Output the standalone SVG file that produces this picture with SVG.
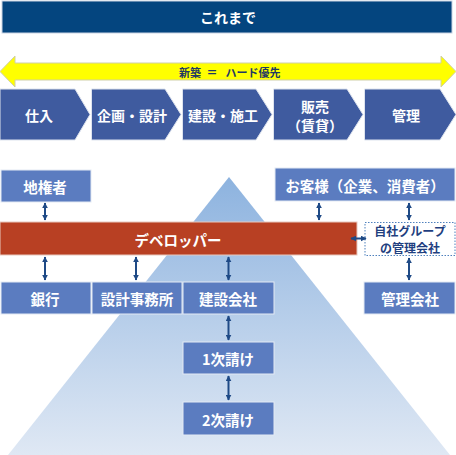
<svg xmlns="http://www.w3.org/2000/svg" width="456" height="455" viewBox="0 0 456 455">
<defs>
<linearGradient id="pyr" x1="0" y1="0" x2="0" y2="1">
<stop offset="0" stop-color="#8DB3DF"/>
<stop offset="1" stop-color="#DFE8F4"/>
</linearGradient>
<marker id="ah" viewBox="0 0 10 10" refX="9" refY="5" markerWidth="3" markerHeight="3" orient="auto-start-reverse" markerUnits="strokeWidth">
<path d="M0,0 L10,5 L0,10 z" fill="#1F4A86"/>
</marker>
<style>
text{font-family:"Noto Sans CJK JP","Noto Sans",sans-serif;font-weight:bold;text-anchor:middle;dominant-baseline:central}
.w{fill:#fff}
.box{fill:#5B7CC0;stroke:#E4EAF4;stroke-width:1}
.chev{fill:#3F5B9F;stroke:#DDE3EE;stroke-width:1}
.t15{font-size:14.5px}
.t14{font-size:14px}
.con{stroke:#1F4A86;stroke-width:2;fill:none;marker-start:url(#ah);marker-end:url(#ah)}
</style>
</defs>
<rect width="456" height="455" fill="#fff"/>
<polygon points="229,177 8,455 450,455" fill="url(#pyr)"/>
<g id="header">
<rect x="2" y="1" width="450" height="32" fill="#04457F" stroke="#C9D3E3" stroke-width="1"/>
<text x="228" y="17" class="w t14">これまで</text>
</g>
<g id="banner">
<polygon points="0,71.5 15,56 15,63 441,63 441,56 456,71.5 441,87 441,80 15,80 15,87" fill="#FFFF00" stroke="#CFCFA8" stroke-width="1"/>
<text x="190" y="72" font-size="11" fill="#1F3864">新築</text>
<text x="212" y="72" font-size="11" fill="#1F3864">＝</text>
<text x="253" y="72" font-size="11" fill="#1F3864">ハード優先</text>
</g>
<g id="step1"><polygon class="chev" points="0,89 75,89 90,114.5 75,140 0,140"/><text x="39" y="115" class="w t14">仕入</text></g>
<g id="step2"><polygon class="chev" points="91.5,89 165,89 181,114.5 165,140 91.5,140"/><text x="132" y="115" class="w t14">企画・設計</text></g>
<g id="step3"><polygon class="chev" points="182.5,89 256,89 272,114.5 256,140 182.5,140"/><text x="223" y="115" class="w t14">建設・施工</text></g>
<g id="step4"><polygon class="chev" points="273.5,89 347,89 363,114.5 347,140 273.5,140"/><text x="315" y="106" class="w t14">販売</text><text x="315" y="125" class="w t14">（賃貸）</text></g>
<g id="step5"><polygon class="chev" points="364.5,89 440,89 456,114.5 440,140 364.5,140"/><text x="406" y="115" class="w t14">管理</text></g>
<g id="jikensha"><rect class="box" x="1" y="170" width="90" height="32"/><text x="45" y="186" class="w t15">地権者</text></g>
<g id="okyaku"><rect class="box" x="275" y="168" width="180" height="33"/><text x="365" y="185" class="w t15">お客様（企業、消費者）</text></g>
<g id="developer"><rect x="0" y="222" width="357" height="33" fill="#B84023" stroke="#E8C8BE" stroke-width="1"/><text x="178" y="239" class="w t15">デベロッパー</text></g>
<g id="jisha"><rect x="365" y="222.5" width="90" height="33" fill="#fff" stroke="#4F81BD" stroke-width="1" stroke-dasharray="1.5,1.5"/><text x="410" y="230.5" font-size="12" fill="#1F3F7F">自社グループ</text><text x="410" y="247.5" font-size="12" fill="#1F3F7F">の管理会社</text></g>
<g id="ginko"><rect class="box" x="1" y="282" width="90" height="32"/><text x="45" y="298" class="w t15">銀行</text></g>
<g id="sekkei"><rect class="box" x="92" y="282" width="90" height="32"/><text x="137" y="298" class="w t15">設計事務所</text></g>
<g id="kensetsu"><rect class="box" x="183" y="282" width="91" height="32"/><text x="228" y="298" class="w t15">建設会社</text></g>
<g id="kanri"><rect class="box" x="364" y="282" width="91" height="32"/><text x="410" y="298" class="w t15">管理会社</text></g>
<g id="ichiji"><rect class="box" x="183" y="342" width="91" height="32"/><text x="228" y="358" class="w t15">1次請け</text></g>
<g id="niji"><rect class="box" x="183" y="402" width="91" height="33"/><text x="228" y="419" class="w t15">2次請け</text></g>
<g id="connectors">
<line class="con" x1="45" y1="203" x2="45" y2="220"/>
<line class="con" x1="45" y1="257" x2="45" y2="280"/>
<line class="con" x1="136" y1="257" x2="136" y2="280"/>
<line class="con" x1="228.5" y1="257" x2="228.5" y2="280"/>
<line class="con" x1="228.5" y1="316" x2="228.5" y2="340"/>
<line class="con" x1="228.5" y1="376" x2="228.5" y2="400"/>
<line class="con" x1="319" y1="203" x2="319" y2="220"/>
<line class="con" x1="409" y1="203" x2="409" y2="220"/>
<line class="con" x1="409" y1="258" x2="409" y2="280"/>
<line class="con" x1="351" y1="238.5" x2="366" y2="238.5"/>
</g>
</svg>
